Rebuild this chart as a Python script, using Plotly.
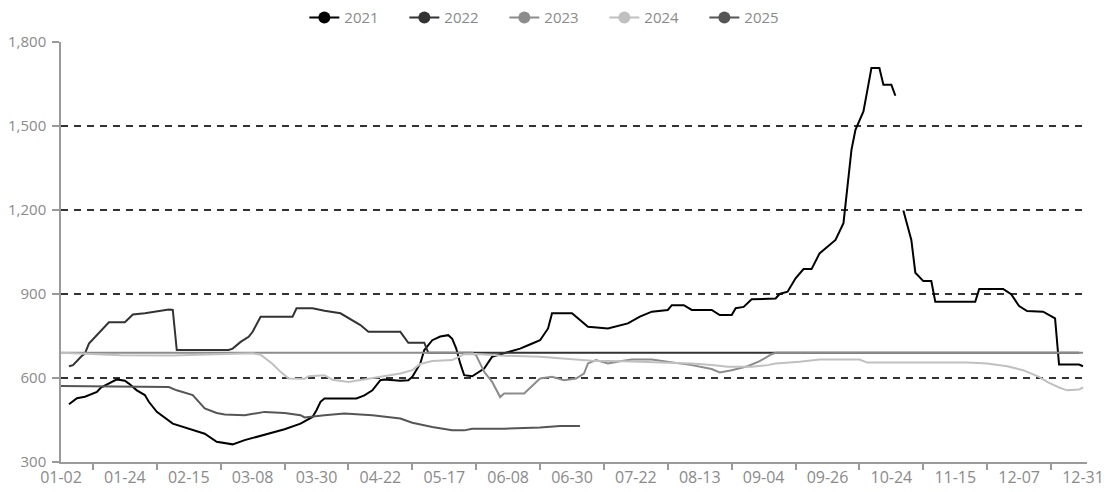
import plotly.graph_objects as go

# x = trading-day index along the category axis (0 = 01-02, 256 = 12-31)
tick_labels = ["01-02", "01-24", "02-15", "03-08", "03-30", "04-22", "05-17", "06-08",
               "06-30", "07-22", "08-13", "09-04", "09-26", "10-24", "11-15", "12-07", "12-31"]
tick_index = [0, 16, 32, 48, 64, 80, 96, 112, 128, 144, 160, 176, 192, 208, 224, 240, 256]

years = ["2021", "2022", "2023", "2024", "2025"]
colors = ["#000000", "#333333", "#8c8c8c", "#c0c0c0", "#555555"]

x2021 = [2, 4, 6, 7, 9, 10, 13, 14, 16, 17, 19, 21, 22, 24, 28, 32, 36, 39, 43, 46, 52, 56, 60, 63, 64, 65, 66,
         74, 76, 78, 80, 81, 85, 87, 88, 90, 91, 93, 95, 97, 98, 99, 100, 101, 103, 106, 108, 112, 115, 117, 120,
         122, 123, 128, 132, 137, 142, 145, 148, 152, 153, 156, 158, 163, 165, 168, 169, 171, 173, 179, 180, 182,
         184, 186, 188, 190, 191, 193, 194, 196, 197, 198, 199, 201, 202, 203, 205, 206, 208, 209, 210, 211, 213,
         214, 216, 218, 219, 229, 230, 236, 238, 240, 242, 246, 249, 250, 255, 256]
y2021 = [506, 528, 533, 538, 550, 566, 586, 595, 590, 580, 556, 539, 515, 479, 437, 419, 401, 372, 363, 378, 401,
         417, 437, 461, 485, 515, 527, 527, 538, 556, 592, 595, 590, 592, 604, 652, 700, 735, 748, 753, 740, 705,
         652, 610, 606, 634, 676, 693, 705, 717, 735, 777, 831, 831, 783, 777, 795, 819, 837, 843, 860, 860, 843,
         843, 825, 825, 849, 854, 881, 884, 900, 908, 956, 989, 989, 1045, 1057, 1083, 1093, 1153, 1296, 1415,
         1486, 1552, 1629, 1707, 1707, 1647, 1647, 1608, None, 1198, 1093, 976, 946, 946, 872, 872, 918, 918, 899,
         857, 839, 837, 813, 648, 648, 642]

x2022 = [2, 3, 5, 6, 7, 9, 10, 12, 16, 17, 18, 21, 25, 27, 28, 29, 42, 43, 45, 47, 48, 50, 58, 59, 63, 66, 70,
         72, 75, 77, 85, 87, 91, 92, 255]
y2022 = [642, 646, 676, 688, 723, 753, 771, 799, 799, 813, 827, 831, 840, 845, 843, 700, 700, 705, 729, 747, 765,
         819, 819, 849, 849, 840, 831, 813, 789, 765, 765, 726, 726, 690, 690]

x2023 = [0, 103, 104, 106, 108, 110, 111, 116, 120, 123, 126, 129, 131, 132, 134, 137, 140, 143, 148, 153, 158,
         163, 165, 168, 172, 175, 178, 179, 256]
y2023 = [690, 690, 681, 622, 586, 532, 545, 545, 598, 604, 592, 598, 616, 652, 664, 652, 660, 666, 666, 656, 646,
         632, 620, 628, 642, 660, 685, 690, 690]

x2024 = [0, 8, 15, 28, 40, 48, 50, 53, 55, 57, 61, 62, 66, 68, 72, 77, 81, 85, 88, 90, 93, 98, 100, 101, 104,
         110, 120, 128, 133, 141, 150, 158, 163, 167, 173, 177, 179, 185, 190, 200, 202, 227, 232, 237, 241, 245,
         247, 250, 252, 255, 256]
y2024 = [690, 686, 681, 680, 684, 688, 683, 650, 622, 598, 597, 606, 610, 594, 586, 598, 606, 616, 628, 650, 661,
         664, 678, 685, 686, 680, 676, 668, 662, 660, 656, 652, 646, 640, 640, 646, 652, 658, 666, 666, 655, 655,
         652, 642, 628, 604, 586, 566, 556, 559, 566]

x2025 = [0, 27, 29, 33, 36, 39, 41, 46, 51, 56, 60, 61, 66, 71, 78, 85, 88, 93, 98, 101, 103, 111, 120, 125, 130]
y2025 = [571, 568, 556, 539, 491, 475, 470, 467, 479, 475, 467, 459, 467, 473, 467, 455, 440, 425, 413, 413, 419,
         419, 423, 429, 429]

xs = [x2021, x2022, x2023, x2024, x2025]
ys = [y2021, y2022, y2023, y2024, y2025]

fig = go.Figure()
for name, col, xv, yv in zip(years, colors, xs, ys):
    fig.add_trace(go.Scatter(x=xv, y=yv, mode="lines", name=name, showlegend=False,
                             line=dict(color=col, width=2), connectgaps=False, hoverinfo="x+y+name"))
for name, col in zip(years, colors):
    fig.add_trace(go.Scatter(x=[None], y=[None], mode="lines+markers", name=name,
                             line=dict(color=col, width=2), marker=dict(color=col, size=12)))

axis_col = "#9a9a9a"
text_col = "#8a8a8a"
fig.update_layout(
    width=1115, height=492,
    margin=dict(l=53, r=36, t=34, b=38, autoexpand=False),
    plot_bgcolor="white", paper_bgcolor="white",
    font=dict(family="Open Sans", size=15, color=text_col),
    showlegend=True,
    legend=dict(orientation="h", xref="container", yref="container", x=0.490, xanchor="center",
                y=0.980, yanchor="middle",
                font=dict(size=15, color=text_col), entrywidth=55, entrywidthmode="pixels",
                bgcolor="rgba(0,0,0,0)", borderwidth=0),
    xaxis=dict(range=[0, 257], tickmode="array", tickvals=tick_index, ticktext=tick_labels,
               ticks="", showgrid=False, zeroline=False, showline=True, linecolor=axis_col, linewidth=1.5,
               tickfont=dict(size=16, color=text_col),
               minor=dict(ticks="outside", tick0=8, dtick=16, ticklen=6, tickcolor=axis_col, tickwidth=1.5,
                          showgrid=False)),
    yaxis=dict(range=[300, 1800], tickmode="array", tickvals=[300, 600, 900, 1200, 1500, 1800],
               ticktext=["300", "600", "900", "1,200", "1,500", "1,800"],
               showgrid=True, gridcolor="#333333", gridwidth=1.5, griddash="7px,6px",
               zeroline=False, showline=True, linecolor=axis_col, linewidth=1.5,
               ticks="outside", ticklen=7, tickcolor=axis_col, tickwidth=1.5, ticklabelstandoff=3,
               tickfont=dict(size=15, color=text_col)),
)

fig.write_html("out.html")
